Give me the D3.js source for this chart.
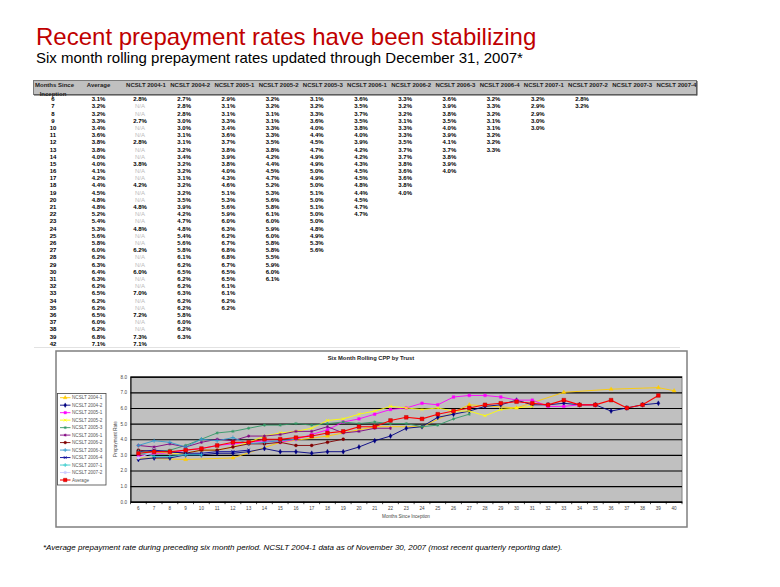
<!DOCTYPE html>
<html><head><meta charset="utf-8">
<script src="https://cdn.jsdelivr.net/npm/d3@7"></script>
<style>body{margin:0;background:#fff;} svg{display:block;font-family:Arial,"Liberation Sans",sans-serif;}</style>
</head><body><svg id="c" width="780" height="587"></svg>
<script>
// ---------------- DATA ----------------
const titleText = "Recent prepayment rates have been stabilizing";
const subtitleText = "Six month rolling prepayment rates updated through December 31, 2007*";
const footnoteText = "*Average prepayment rate during preceding six month period.  NCSLT 2004-1 data as of November 30, 2007 (most recent quarterly reporting date).";
const chartTitle = "Six Month Rolling CPP by Trust";

const months = [6,7,8,9,10,11,12,13,14,15,16,17,18,19,20,21,22,23,24,25,26,27,28,29,30,31,32,33,34,35,36,37,38,39,42];
const chartMonths = [6,7,8,9,10,11,12,13,14,15,16,17,18,19,20,21,22,23,24,25,26,27,28,29,30,31,32,33,34,35,36,37,38,39,40];
const yTicks = [0,1,2,3,4,5,6,7,8];
const trusts = ["NCSLT 2004-1","NCSLT 2004-2","NCSLT 2005-1","NCSLT 2005-2","NCSLT 2005-3","NCSLT 2006-1","NCSLT 2006-2","NCSLT 2006-3","NCSLT 2006-4","NCSLT 2007-1","NCSLT 2007-2","NCSLT 2007-3","NCSLT 2007-4"];

const average = [3.1,3.2,3.2,3.3,3.4,3.6,3.8,3.8,4.0,4.0, 4.1,4.2,4.4,4.5,4.8,4.8,5.2,5.4,5.3,5.6, 5.8,6.0,6.2,6.3,6.4,6.3,6.2,6.5,6.2,6.2, 6.5,6.0,6.2,6.8,7.1];
const ncslt2004_1 = [2.8,null,null,2.7,null,null,2.8,null,null,3.8, null,null,4.2,null,null,4.8,null,null,4.8,null, null,6.2,null,null,6.0,null,null,7.0,null,null, 7.2,null,null,7.3,7.1];
const ncslt2004_2 = [2.7,2.8,2.8,3.0,3.0,3.1,3.1,3.2,3.4,3.2, 3.2,3.1,3.2,3.2,3.5,3.9,4.2,4.7,4.8,5.4, 5.6,5.8,6.1,6.2,6.5,6.2,6.2,6.3,6.2,6.2, 5.8,6.0,6.2,6.3];
const ncslt2005_1 = [2.9,3.1,3.1,3.3,3.4,3.6,3.7,3.8,3.9,3.8, 4.0,4.3,4.6,5.1,5.3,5.6,5.9,6.0,6.3,6.2, 6.7,6.8,6.8,6.7,6.5,6.5,6.1,6.1,6.2,6.2];
const ncslt2005_2 = [3.2,3.2,3.1,3.1,3.3,3.3,3.5,3.8,4.2,4.4, 4.5,4.7,5.2,5.3,5.6,5.8,6.1,6.0,5.9,6.0, 5.8,5.8,5.5,5.9,6.0,6.1];
const ncslt2005_3 = [3.1,3.2,3.3,3.6,4.0,4.4,4.5,4.7,4.9,4.9, 5.0,4.9,5.0,5.1,5.0,5.1,5.0,5.0,4.8,4.9, 5.3,5.6];
const ncslt2006_1 = [3.6,3.5,3.7,3.5,3.8,4.0,3.9,4.2,4.2,4.3, 4.5,4.5,4.8,4.4,4.5,4.7,4.7];
const ncslt2006_2 = [3.3,3.2,3.2,3.1,3.3,3.3,3.5,3.7,3.7,3.8, 3.6,3.6,3.8,4.0];
const ncslt2006_3 = [3.6,3.9,3.8,3.5,4.0,3.9,4.1,3.7,3.8,3.9, 4.0];
const ncslt2006_4 = [3.2,3.3,3.2,3.1,3.1,3.2,3.2,3.3];
const ncslt2007_1 = [3.2,2.9,2.9,3.0,3.0];
const ncslt2007_2 = [2.8,3.2];
const ncslt2007_3 = [];
const ncslt2007_4 = [];
const averageChartPoints = 34; // the chart's Average series stops at month 39

const trustValues = [ncslt2004_1,ncslt2004_2,ncslt2005_1,ncslt2005_2,ncslt2005_3,ncslt2006_1,ncslt2006_2,ncslt2006_3,ncslt2006_4,ncslt2007_1,ncslt2007_2,ncslt2007_3,ncslt2007_4];

// ---------------- STYLES ----------------
const seriesStyle = [
  {color:"#FFCC00", sym:d3.symbolTriangle, fill:true},
  {color:"#000080", sym:d3.symbolDiamond, fill:true},
  {color:"#FF00FF", sym:d3.symbolSquare, fill:true},
  {color:"#FFFF00", sym:d3.symbolTimes, fill:false},
  {color:"#339966", sym:d3.symbolAsterisk, fill:false},
  {color:"#800080", sym:d3.symbolAsterisk, fill:false},
  {color:"#800000", sym:d3.symbolCircle, fill:true},
  {color:"#3399CC", sym:d3.symbolPlus, fill:false},
  {color:"#000099", sym:d3.symbolTimes, fill:false},
  {color:"#33CCCC", sym:d3.symbolPlus, fill:false},
  {color:"#CCCCFF", sym:d3.symbolCircle, fill:true}
];

const svg = d3.select("#c");
const fmt = v => d3.format(".1f")(v) + "%";

// ---------------- TITLES ----------------
svg.append("text").attr("x",36).attr("y",45).attr("font-size",24).attr("fill","#C00000").text(titleText);
svg.append("text").attr("x",36).attr("y",63).attr("font-size",15).attr("fill","#000").text(subtitleText);

// ---------------- TABLE ----------------
const rowY = d3.scalePoint().domain(months).range([99, 343.5]);
const valX = d3.scaleLinear().domain([0,12]).range([140, 140+12*44.2]);
const hdrX = d3.scaleLinear().domain([0,12]).range([146, 146+12*44.2]);
const avgX = 98.5, monX = 53;

svg.append("rect").attr("x",33.5).attr("y",80.5).attr("width",663).attr("height",14)
  .attr("fill","#C0C0C0").attr("stroke","#7a7a7a").attr("stroke-width",1);
svg.append("line").attr("x1",34).attr("x2",697).attr("y1",95).attr("y2",95).attr("stroke","#404040").attr("stroke-width",1);
svg.append("line").attr("x1",697).attr("x2",697).attr("y1",81).attr("y2",95.5).attr("stroke","#404040").attr("stroke-width",1);

const hdr = svg.append("g").attr("font-size",6).attr("font-weight","bold").attr("fill","#222");
hdr.append("text").attr("x",35).attr("y",87).text("Months Since");
hdr.append("text").attr("x",monX).attr("y",95.5).attr("text-anchor","middle").text("Inception");
hdr.append("text").attr("x",avgX).attr("y",87).attr("text-anchor","middle").text("Average");
hdr.selectAll("text.t").data(trusts).join("text").attr("class","t")
  .attr("x",(d,i)=>hdrX(i)).attr("y",87).attr("text-anchor","middle").text(d=>d);

const body = svg.append("g").attr("font-size",6).attr("font-weight","bold").attr("fill","#000").attr("text-anchor","middle");
months.forEach((m,r) => {
  const y = rowY(m) + 2.2;
  body.append("text").attr("x",monX).attr("y",y).text(m);
  body.append("text").attr("x",avgX).attr("y",y).text(fmt(average[r]));
  trustValues.forEach((arr,c) => {
    if (r < arr.length) {
      const v = arr[r];
      if (v === null) {
        body.append("text").attr("x",valX(c)).attr("y",y).attr("font-weight","normal").attr("fill","#BBBBBB").text("N/A");
      } else {
        body.append("text").attr("x",valX(c)).attr("y",y).text(fmt(v));
      }
    }
  });
});
svg.append("line").attr("x1",34).attr("x2",680).attr("y1",347.5).attr("y2",347.5).attr("stroke","#e2e2e2");

// ---------------- CHART ----------------
svg.append("rect").attr("x",56).attr("y",351).attr("width",631).attr("height",176)
  .attr("fill","#fff").attr("stroke","#7f7f7f").attr("stroke-width",1.5);

const x = d3.scaleBand().domain(chartMonths).range([130.5,682]);
const y = d3.scaleLinear().domain([0,8]).range([501.7,376.7]);
const cx = i => x(chartMonths[i]) + x.bandwidth()/2;

svg.append("rect").attr("x",130.5).attr("y",y(8)).attr("width",682-130.5).attr("height",y(0)-y(8))
  .attr("fill","#C0C0C0").attr("stroke","#808080");

const yAxis = svg.append("g").attr("transform","translate(130.5,0)")
  .call(d3.axisLeft(y).tickValues(yTicks).tickFormat(d3.format(".1f")).tickSize(-(682-130.5)).tickPadding(3.5));
yAxis.select(".domain").attr("stroke","#000");
yAxis.selectAll(".tick line").attr("stroke","#000").attr("stroke-width",1.1);
yAxis.selectAll(".tick text").attr("font-size",4.6).attr("fill","#444").attr("font-family","Arial");

const xAxis = svg.append("g").attr("transform",`translate(0,${y(0)})`)
  .call(d3.axisBottom(x).tickSize(0).tickPadding(5));
xAxis.select(".domain").attr("stroke","#000");
xAxis.selectAll(".tick text").attr("font-size",4.6).attr("fill","#444").attr("font-family","Arial");
svg.append("g").selectAll("line").data(chartMonths.concat([null])).join("line")
  .attr("x1",(d,i)=>130.5+i*x.step()).attr("x2",(d,i)=>130.5+i*x.step())
  .attr("y1",y(0)).attr("y2",y(0)+2.5).attr("stroke","#000").attr("stroke-width",0.7);

svg.append("text").attr("x",371).attr("y",360).attr("text-anchor","middle").attr("font-size",5.8)
  .attr("font-weight","bold").attr("fill","#222").text(chartTitle);
svg.append("text").attr("x",406).attr("y",517.5).attr("text-anchor","middle").attr("font-size",4.6).attr("fill","#444").text("Months Since Inception");
svg.append("text").attr("transform","translate(117,439) rotate(-90)").attr("text-anchor","middle").attr("font-size",4.6).attr("fill","#444").text("Prepayment Rate");

const line = d3.line().x(d=>cx(d.i)).y(d=>y(d.v));
function drawSeries(arr, st, lw, msize){
  const pts = arr.map((v,i)=>({i,v})).filter(d=>d.v!==null && d.v!==undefined);
  const g = svg.append("g");
  g.append("path").attr("d",line(pts)).attr("fill","none").attr("stroke",st.color).attr("stroke-width",lw);
  g.selectAll("path.m").data(pts).join("path").attr("class","m")
    .attr("transform",d=>`translate(${cx(d.i)},${y(d.v)})`)
    .attr("d",d3.symbol().type(st.sym).size(msize))
    .attr("fill",st.fill?st.color:"none").attr("stroke",st.stroke||st.color).attr("stroke-width",st.fill?0.4:0.8);
}
trustValues.slice(0,11).forEach((arr,k)=>drawSeries(arr, seriesStyle[k], 0.9, 7));
const avgStyle = {color:"#FF0000", sym:d3.symbolSquare, fill:true, stroke:"#A00000"};
drawSeries(average.slice(0,averageChartPoints), avgStyle, 1.1, 14);

// legend
svg.append("rect").attr("x",57.5).attr("y",393.5).attr("width",48.5).attr("height",91.5)
  .attr("fill","#fff").attr("stroke","#444").attr("stroke-width",0.8);
const legItems = trusts.slice(0,11).map((t,k)=>({name:t, st:seriesStyle[k], size:6}))
  .concat([{name:"Average", st:avgStyle, size:12}]);
const ly = d3.scalePoint().domain(d3.range(legItems.length)).range([397.7,480]);
legItems.forEach((it,k)=>{
  const yy = ly(k);
  svg.append("line").attr("x1",60).attr("x2",70.5).attr("y1",yy).attr("y2",yy).attr("stroke",it.st.color).attr("stroke-width",k===11?1.1:0.9);
  svg.append("path").attr("transform",`translate(65.2,${yy})`).attr("d",d3.symbol().type(it.st.sym).size(it.size))
    .attr("fill",it.st.fill?it.st.color:"none").attr("stroke",it.st.stroke||it.st.color).attr("stroke-width",it.st.fill?0.4:0.8);
  svg.append("text").attr("x",72).attr("y",yy+1.6).attr("font-size",4.6).attr("fill","#555").text(it.name);
});

// footnote
svg.append("text").attr("x",43).attr("y",549.5).attr("font-size",8).attr("font-style","italic").attr("fill","#000").text(footnoteText);
</script></body></html>
